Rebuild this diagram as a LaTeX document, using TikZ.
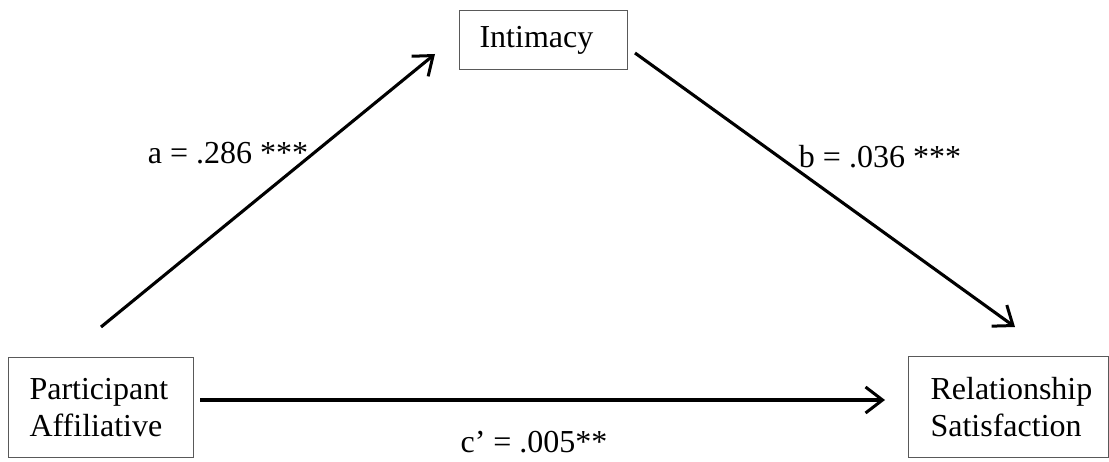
\documentclass[tikz,border=0pt]{standalone}
\usepackage{fontspec}
\setmainfont{Liberation Serif}
\usetikzlibrary{arrows.meta}
\begin{document}
\begin{tikzpicture}[x=1pt,y=-1pt,
  varbox/.style={draw=black!65, line width=1.1pt, anchor=north west, align=left,
    font=\fontsize{32}{37}\selectfont, inner ysep=0pt},
  lbl/.style={font=\fontsize{32}{37}\selectfont, inner sep=0pt},
  path/.style={line width=3.1pt, -{Straight Barb[length=17pt,width=26pt,line width=3pt]}}]
\useasboundingbox (0,0) rectangle (1109,462);
\node[varbox, minimum width=185pt, minimum height=100pt, inner xsep=21pt, text width=143pt] (P) at (8,357) {Participant\\Affiliative};
\node[varbox, minimum width=200pt, minimum height=101pt, inner xsep=22pt, text width=156pt] (R) at (908,356) {Relationship\\Satisfaction};
\node[varbox, minimum width=168pt, minimum height=59pt, inner xsep=20pt, text width=128pt] (I) at (459,10) {Intimacy};
\coordinate (aS) at (101,327);
\coordinate (aE) at (435,54);
\coordinate (bS) at (635,53);
\coordinate (bE) at (1015,327);
\coordinate (cS) at (200,400);
\coordinate (cE) at (885,400);
\draw[path] (aS) -- (aE);
\draw[path] (bS) -- (bE);
\draw[path] (cS) -- (cE);
\node[lbl] (la) at (228,153) {a = .286 ***};
\node[lbl] (lb) at (880,157) {b = .036 ***};
\node[lbl] (lc) at (534,442) {c’ = .005**};
\end{tikzpicture}
\end{document}
